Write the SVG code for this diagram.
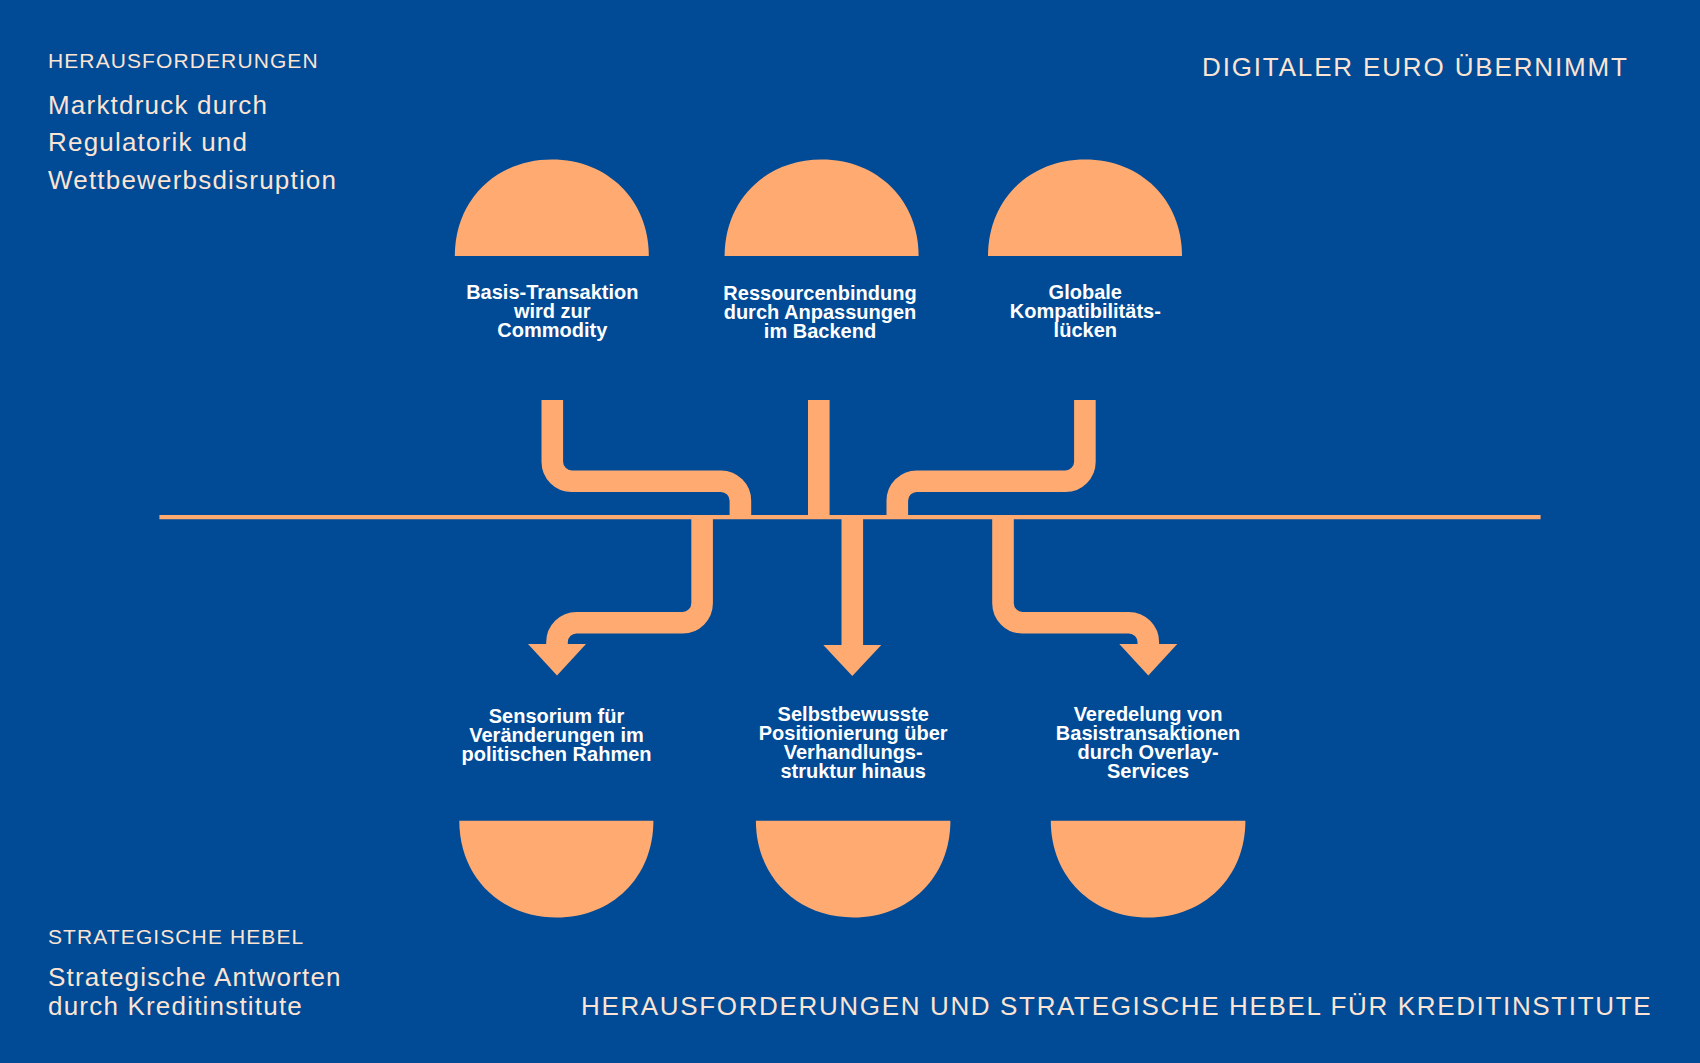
<svg xmlns="http://www.w3.org/2000/svg" width="1700" height="1063" viewBox="0 0 1700 1063">
  <style>
    .dome { fill: #FEAA70; }
    .conn { fill: none; stroke: #FEAA70; stroke-width: 21.6; stroke-linejoin: miter; stroke-linecap: butt; }
    .head { fill: #FEAA70; }
    .axis { stroke: #FEAA70; stroke-width: 4.3; }
    .lbl { font-family: "Liberation Sans", Arial, sans-serif; font-weight: bold; font-size: 20px; fill: #FFFFFF; text-anchor: middle; }
    .cap { font-family: "Liberation Sans", Arial, sans-serif; font-size: 21px; fill: #FBE4D3; letter-spacing: 1.1px; }
    .sub { font-family: "Liberation Sans", Arial, sans-serif; font-size: 26px; fill: #FBE4D3; letter-spacing: 1.2px; }
    .title { font-family: "Liberation Sans", Arial, sans-serif; font-size: 26px; fill: #FBE4D3; }
  </style>
  <rect width="1700" height="1063" fill="#004A96"/>

  <g id="header-left">
    <text class="cap" x="48" y="68" letter-spacing="1.3">HERAUSFORDERUNGEN</text>
    <text class="sub" x="48" y="113.5">Marktdruck durch</text>
    <text class="sub" x="48" y="151">Regulatorik und</text>
    <text class="sub" x="48" y="188.5">Wettbewerbsdisruption</text>
  </g>
  <g id="header-right">
    <text class="title" x="1202" y="75.5" letter-spacing="1.85">DIGITALER EURO ÜBERNIMMT</text>
  </g>
  <g id="footer-left">
    <text class="cap" x="48" y="944" letter-spacing="1.0">STRATEGISCHE HEBEL</text>
    <text class="sub" x="48" y="986" letter-spacing="1.65">Strategische Antworten</text>
    <text class="sub" x="48" y="1014.5" letter-spacing="1.65">durch Kreditinstitute</text>
  </g>
  <g id="footer-right">
    <text class="title" x="581" y="1015" letter-spacing="1.65" fill="#F6EEEA">HERAUSFORDERUNGEN UND STRATEGISCHE HEBEL FÜR KREDITINSTITUTE</text>
  </g>

  <g id="challenge-1">
    <path class="dome" d="M454.8 256 C454.8 200 496 159.5 551.8 159.5 C607.6 159.5 648.8 200 648.8 256 Z"/>
    <text class="lbl" x="552.3" y="299">Basis-Transaktion</text>
    <text class="lbl" x="552.3" y="318">wird zur</text>
    <text class="lbl" x="552.3" y="337">Commodity</text>
  </g>
  <g id="challenge-2">
    <path class="dome" d="M724.6 256 C724.6 200 765.8 159.5 821.6 159.5 C877.4 159.5 918.6 200 918.6 256 Z"/>
    <text class="lbl" x="820" y="300">Ressourcenbindung</text>
    <text class="lbl" x="820" y="319">durch Anpassungen</text>
    <text class="lbl" x="820" y="338">im Backend</text>
  </g>
  <g id="challenge-3">
    <path class="dome" d="M988 256 C988 200 1029.2 159.5 1085 159.5 C1140.8 159.5 1182 200 1182 256 Z"/>
    <text class="lbl" x="1085.3" y="299">Globale</text>
    <text class="lbl" x="1085.3" y="318">Kompatibilitäts-</text>
    <text class="lbl" x="1085.3" y="337">lücken</text>
  </g>

  <g id="lever-1">
    <text class="lbl" x="556.5" y="722.5">Sensorium für</text>
    <text class="lbl" x="556.5" y="741.5">Veränderungen im</text>
    <text class="lbl" x="556.5" y="760.5">politischen Rahmen</text>
    <path class="dome" d="M459.3 820.7 C459.3 877 500.5 917.5 556.4 917.5 C612.2 917.5 653.4 877 653.4 820.7 Z"/>
  </g>
  <g id="lever-2">
    <text class="lbl" x="853.2" y="720.5">Selbstbewusste</text>
    <text class="lbl" x="853.2" y="739.5">Positionierung über</text>
    <text class="lbl" x="853.2" y="758.5">Verhandlungs-</text>
    <text class="lbl" x="853.2" y="777.5">struktur hinaus</text>
    <path class="dome" d="M755.9 820.7 C755.9 877 797.3 917.5 853.2 917.5 C909 917.5 950.4 877 950.4 820.7 Z"/>
  </g>
  <g id="lever-3">
    <text class="lbl" x="1148.1" y="720.5">Veredelung von</text>
    <text class="lbl" x="1148.1" y="739.5">Basistransaktionen</text>
    <text class="lbl" x="1148.1" y="758.5">durch Overlay-</text>
    <text class="lbl" x="1148.1" y="777.5">Services</text>
    <path class="dome" d="M1050.8 820.7 C1050.8 877 1092.2 917.5 1148.1 917.5 C1203.9 917.5 1245.4 877 1245.4 820.7 Z"/>
  </g>

  <g id="connectors">
    <line class="axis" x1="159.4" y1="517.2" x2="1540.6" y2="517.2"/>
    <path class="conn" d="M552.3 400 V461.7 A19.5 19.5 0 0 0 571.8 481.2 H720.9 A19.5 19.5 0 0 1 740.4 500.7 V516"/>
    <path class="conn" d="M818.8 400 V516"/>
    <path class="conn" d="M1084.9 400 V461.7 A19.5 19.5 0 0 1 1065.4 481.2 H916.8 A19.5 19.5 0 0 0 897.3 500.7 V516"/>

    <path class="conn" d="M702.1 518 V603.2 A19.5 19.5 0 0 1 682.6 622.7 H576.5 A19.5 19.5 0 0 0 557 642.2 V646"/>
    <polygon class="head" points="528,644 586,644 557,675.5"/>
    <path class="conn" d="M852.3 518 V646"/>
    <polygon class="head" points="823.3,645 881.3,645 852.3,676"/>
    <path class="conn" d="M1003 518 V603.2 A19.5 19.5 0 0 0 1022.5 622.7 H1128.8 A19.5 19.5 0 0 1 1148.3 642.2 V646"/>
    <polygon class="head" points="1119.3,644 1177.3,644 1148.3,675.5"/>
  </g>
</svg>
